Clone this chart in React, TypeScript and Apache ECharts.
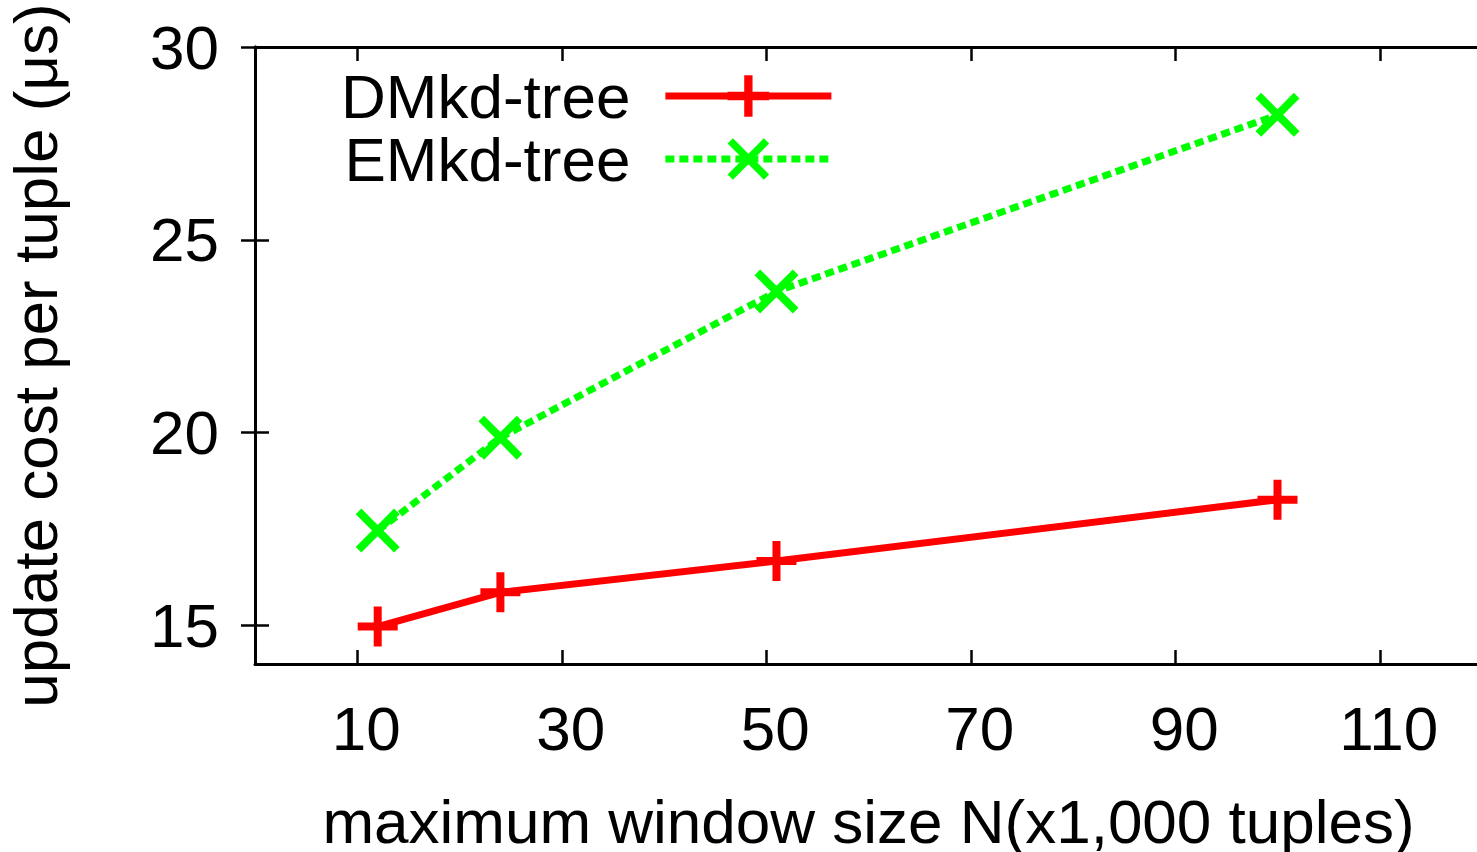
import React, { useEffect, useRef } from "react";
import * as echarts from "echarts";

const windowSizes = [12, 24, 51, 100];
const dmkdTree = [14.97, 15.86, 16.67, 18.26];
const emkdTree = [17.46, 19.87, 23.66, 28.24];
const xTicks = [10, 30, 50, 70, 90, 110];
const yTicks = [15, 20, 25, 30];
const seriesNames = ["DMkd-tree", "EMkd-tree"];

const FONT = "Liberation Sans";
const PLUS = "path://M16,0 H24 V16 H40 V24 H24 V40 H16 V24 H0 V16 H16 Z";
const CROSS =
  "path://M0,5.66 L5.66,0 L22,16.34 L38.34,0 L44,5.66 L27.66,22 L44,38.34 L38.34,44 L22,27.66 L5.66,44 L0,38.34 L16.34,22 Z";

export default function App() {
  const ref = useRef<HTMLDivElement>(null);
  useEffect(() => {
    if (!ref.current) return;
    const chart = echarts.init(ref.current, null, { renderer: "svg" });
    const axisLine = { show: true, lineStyle: { color: "#000", width: 3 } };
    const tick = (vals: number[]) => ({
      show: true,
      inside: true,
      length: 14,
      customValues: vals,
      lineStyle: { color: "#000", width: 2.5 },
    });
    chart.setOption({
      animation: false,
      backgroundColor: "#fff",
      textStyle: { fontFamily: FONT },
      grid: {
        left: 255,
        top: 47,
        width: 1227,
        height: 617,
        containLabel: false,
        outerBoundsMode: "none",
      },
      legend: {
        orient: "vertical",
        left: 336,
        top: 60,
        align: "right",
        itemWidth: 166,
        itemHeight: 52,
        itemGap: 1,
        data: seriesNames,
        lineStyle: { width: 7 },
        textStyle: {
          fontFamily: FONT,
          fontSize: 62,
          lineHeight: 62,
          color: "#000",
          padding: [0, 30, 0, 0],
        },
      },
      xAxis: [
        {
          type: "value",
          min: 0,
          max: 120,
          position: "bottom",
          name: "maximum window size N(x1,000 tuples)",
          nameLocation: "middle",
          nameGap: 128,
          nameTextStyle: {
            fontFamily: FONT,
            fontSize: 62,
            lineHeight: 58,
            color: "#000",
          },
          axisLine,
          axisTick: tick(xTicks),
          splitLine: { show: false },
          axisLabel: {
            customValues: xTicks,
            fontFamily: FONT,
            fontSize: 62,
            color: "#000",
            margin: 33,
            padding: [0, 0, 0, 18],
          },
        },
        {
          type: "value",
          min: 0,
          max: 120,
          position: "top",
          axisLine,
          axisTick: tick(xTicks),
          splitLine: { show: false },
          axisLabel: { show: false },
        },
      ],
      yAxis: [
        {
          type: "value",
          min: 14,
          max: 30,
          position: "left",
          name: "update cost per tuple (\u03bcs)",
          nameLocation: "middle",
          nameGap: 189,
          nameTextStyle: { fontFamily: FONT, fontSize: 62, color: "#000" },
          axisLine,
          axisTick: tick(yTicks),
          splitLine: { show: false },
          axisLabel: {
            customValues: yTicks,
            fontFamily: FONT,
            fontSize: 62,
            color: "#000",
            margin: 36,
          },
        },
        {
          type: "value",
          min: 14,
          max: 30,
          position: "right",
          axisLine,
          axisTick: tick(yTicks),
          splitLine: { show: false },
          axisLabel: { show: false },
        },
      ],
      series: [
        {
          name: seriesNames[0],
          type: "line",
          xAxisIndex: 0,
          yAxisIndex: 0,
          data: windowSizes.map((x, i) => [x, dmkdTree[i]]),
          symbol: PLUS,
          symbolSize: 40,
          color: "#ff0000",
          itemStyle: { color: "#ff0000" },
          lineStyle: { color: "#ff0000", width: 7, type: "solid", cap: "butt" },
          clip: false,
        },
        {
          name: seriesNames[1],
          type: "line",
          xAxisIndex: 0,
          yAxisIndex: 0,
          data: windowSizes.map((x, i) => [x, emkdTree[i]]),
          symbol: CROSS,
          symbolSize: 44,
          color: "#00ff00",
          itemStyle: { color: "#00ff00" },
          lineStyle: { color: "#00ff00", width: 7, type: [9, 5], cap: "butt" },
          clip: false,
        },
      ],
    });
    return () => chart.dispose();
  }, []);
  return (
    <div
      ref={ref}
      style={{ position: "absolute", left: 0, top: 0, width: 1477, height: 852 }}
    />
  );
}
